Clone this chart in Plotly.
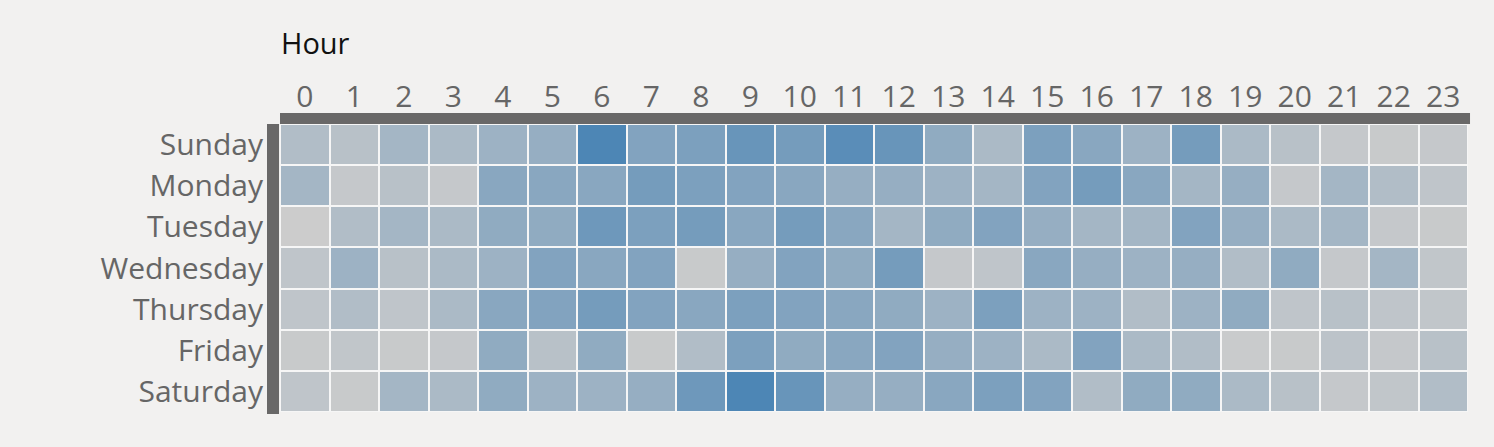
import plotly.graph_objects as go

days = ["Sunday", "Monday", "Tuesday", "Wednesday", "Thursday", "Friday", "Saturday"]
hours = list(range(24))
hour_labels = [str(h) for h in hours]

sunday    = [2, 1.5, 3, 2.5, 3.5, 4, 9.5, 5.5, 6, 7.5, 6.5, 8.5, 7.5, 4.5, 2.5, 6, 5, 3.5, 6.5, 2.5, 1.5, 0.5, 0.3, 0.5]
monday    = [3, 0.5, 1.5, 0.5, 5, 5, 5, 6.5, 6, 5.5, 5, 4, 4, 3.5, 3, 5.5, 6.5, 5, 3, 4, 0.5, 3, 2, 1]
tuesday   = [0, 2, 3, 2.5, 4.5, 4.5, 7, 6, 6.5, 5, 6.5, 5, 3, 4.5, 5.5, 4, 3, 3, 5.5, 4, 2.5, 3, 0.5, 0.3]
wednesday = [1, 3.5, 1.5, 2.5, 3.5, 5.5, 5, 5.5, 0.3, 4, 5.5, 4.5, 6.5, 0.5, 1, 5, 4, 3.5, 4, 2, 4.5, 0.5, 3, 0.8]
thursday  = [1, 2, 1, 2.5, 5, 5.5, 6.5, 5.5, 5, 6, 5.5, 5, 4.5, 3.5, 6, 3.5, 3.5, 2, 3.5, 4.5, 1, 1.5, 1, 0.8]
friday    = [0.3, 0.8, 0.3, 0.5, 4.5, 1.5, 4.5, 0.3, 2, 6, 4.5, 5, 5.5, 4, 3.5, 2.5, 5.5, 2.5, 2, 0.2, 0.3, 1.2, 0.5, 1.5]
saturday  = [1, 0.3, 3, 2.5, 4.5, 3.5, 3.5, 4, 7, 9.5, 7.5, 4, 4, 5, 6, 5.5, 2, 4.5, 4.5, 2.5, 1.5, 0.5, 0.8, 2]

values = [sunday, monday, tuesday, wednesday, thursday, friday, saturday]

FONT = "Open Sans"
BAR = "#696868"
BG = "#f2f1f0"

fig = go.Figure(go.Heatmap(
    z=values, x=hours, y=days,
    colorscale=[[0, "#cccccc"], [1, "#4682b4"]],
    zmin=0, zmax=10, showscale=False,
    xgap=2, ygap=2, hoverinfo="skip",
))

fig.update_layout(
    width=1494, height=447,
    margin=dict(l=280, r=26, t=124, b=35),
    paper_bgcolor=BG,
    plot_bgcolor="#f6f6f6",
    font=dict(family=FONT, size=30, color="#666666"),
    title=dict(text="Hour", x=281 / 1494, xanchor="left", xref="container",
               y=1 - 44 / 447, yanchor="middle", yref="container",
               font=dict(family=FONT, size=29, color="#111111")),
    xaxis=dict(side="top", tickmode="array", tickvals=hours, ticktext=hour_labels,
               showgrid=False, zeroline=False, ticks="", ticklabelstandoff=10,
               range=[-0.5, 23.5]),
    yaxis=dict(autorange="reversed", showgrid=False, zeroline=False, ticks="",
               ticklabelstandoff=16),
    shapes=[
        dict(type="rect", xref="paper", yref="paper", x0=0, x1=1.0017,
             y0=1, y1=1 + 11 / 288, fillcolor=BAR, line_width=0, layer="above"),
        dict(type="rect", xref="paper", yref="paper", x0=-13 / 1188, x1=-1 / 1188,
             y0=-2 / 288, y1=1, fillcolor=BAR, line_width=0, layer="above"),
    ],
)

fig.write_html(
    "out.html",
    config={"displayModeBar": False},
    post_script=f"document.body.style.margin='0';document.body.style.background='{BG}';",
)
